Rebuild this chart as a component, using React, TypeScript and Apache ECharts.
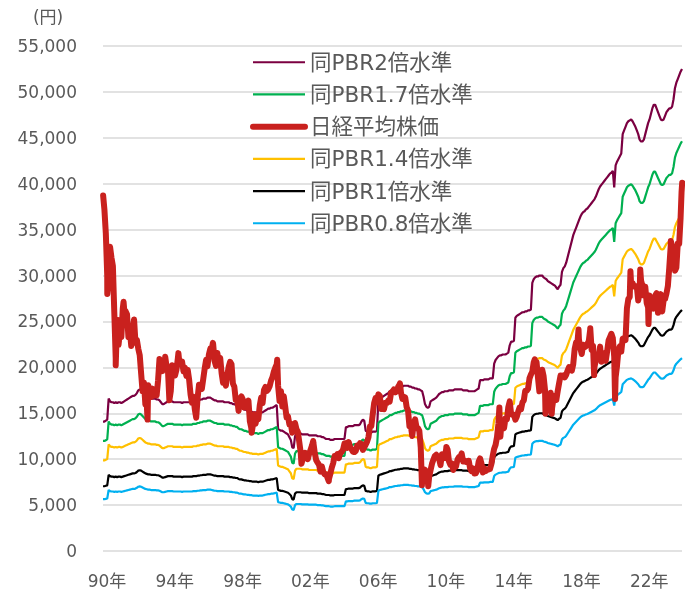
import React, { useEffect, useRef } from "react";
import * as echarts from "echarts";

// ---------- data ----------
const START_YEAR = 1990;

// Nikkei 225 month-end closes, Jan 1990 .. Jan 2024 (yen)
const nikkeiMonthEnd: number[] = [
  37189, 34591, 29980, 29584, 33131, 31940, 31035, 25978, 20984, 25194, 22455, 23849,
  23293, 26409, 26292, 26111, 25790, 23291, 23986, 22336, 23916, 25222, 22687, 22984,
  22023, 21339, 19346, 17391, 18348, 15952, 15910, 18061, 17399, 16767, 17684, 16925,
  17024, 16953, 18591, 20919, 20552, 19590, 20380, 21027, 20106, 19704, 16408, 17417,
  20229, 19997, 19112, 19725, 20974, 20644, 20449, 20629, 19564, 19990, 19076, 19723,
  18650, 17053, 16140, 16807, 15437, 14518, 16678, 18117, 17913, 17655, 18744, 19868,
  20813, 20125, 21407, 22041, 21956, 22531, 20693, 20167, 21556, 20467, 21020, 19361,
  18330, 18557, 18003, 19151, 20069, 20605, 20331, 18229, 17888, 16459, 16636, 15259,
  16628, 16832, 16527, 15641, 15671, 15830, 16379, 14108, 13406, 13564, 14883, 13842,
  14499, 14368, 15837, 16702, 16112, 17530, 17862, 17437, 17605, 17942, 18558, 18934,
  19540, 19960, 20337, 17974, 16332, 17411, 15727, 16861, 15747, 14539, 14649, 13786,
  13843, 12884, 12999, 13934, 13262, 12969, 11860, 10713, 9775, 10366, 10697, 10543,
  9997, 10587, 11025, 11493, 11764, 10622, 9877, 9619, 9383, 8640, 9215, 8579,
  8340, 8363, 7973, 7831, 8425, 9083, 9563, 10344, 10219, 10560, 10101, 10677,
  10784, 11042, 11715, 11762, 11236, 11859, 11326, 11082, 10824, 10771, 10899, 11489,
  11388, 11741, 11669, 11009, 11277, 11584, 11900, 12414, 13574, 13607, 14872, 16111,
  16650, 16205, 17060, 16906, 15467, 15505, 15457, 16141, 16128, 16399, 16274, 17226,
  17383, 17604, 17288, 17400, 17876, 18138, 17249, 16569, 16786, 16738, 15681, 15308,
  13592, 13603, 12526, 13850, 14339, 13481, 13377, 13073, 11260, 8577, 8512, 8860,
  7994, 7568, 8110, 8828, 9523, 9958, 10357, 10493, 10133, 10035, 9346, 10546,
  10198, 10126, 11090, 11057, 9769, 9383, 9537, 8824, 9369, 9202, 9937, 10229,
  10238, 10624, 9755, 9850, 9694, 9816, 9833, 8955, 8700, 8988, 8435, 8455,
  8803, 9723, 10084, 9521, 8543, 9007, 8695, 8840, 8870, 8928, 9446, 10395,
  11139, 11559, 12398, 13861, 13775, 13677, 13668, 13389, 14456, 14328, 15662, 16291,
  14915, 14841, 14828, 14304, 14632, 15162, 15621, 15425, 16174, 16414, 17460, 17451,
  17674, 18798, 19207, 19520, 20563, 20236, 20585, 18890, 17388, 19083, 19747, 19034,
  17518, 16027, 16759, 16666, 17235, 15576, 16569, 16887, 16450, 17425, 18308, 19114,
  19041, 19119, 18909, 19197, 19651, 20033, 19925, 19646, 20356, 22012, 22725, 22765,
  23098, 22068, 21454, 22468, 22202, 22305, 22554, 22865, 24120, 21920, 22351, 20015,
  20773, 21385, 21206, 22259, 20601, 21276, 21522, 20704, 21756, 22927, 23294, 23657,
  23205, 21143, 18917, 20194, 21878, 22288, 21710, 23140, 23185, 22977, 26434, 27444,
  27663, 28966, 29179, 28813, 28860, 28792, 27284, 28090, 29453, 28893, 27822, 28792,
  27002, 26527, 27821, 26848, 27280, 26393, 27802, 28092, 25937, 27587, 27969, 26095,
  27327, 27446, 28041, 28856, 30888, 33189, 33172, 32619, 31858, 30859, 33487, 33464,
  36287,
];

// Intra-month highs / lows and the first and last days
const nikkeiIntraMonth: [string, number][] = [
  ["1990-01-04", 38712], ["1990-04-02", 28002], ["1990-10-01", 20222], ["1991-03-18", 27146],
  ["1992-08-18", 14309], ["1993-09-03", 21148], ["1994-06-13", 21552], ["1995-07-03", 14485],
  ["1996-06-26", 22666], ["1998-10-09", 12880], ["2000-04-12", 20833], ["2001-09-17", 9504],
  ["2002-05-27", 11979], ["2003-04-28", 7608], ["2007-07-09", 18262], ["2008-10-27", 7162],
  ["2009-03-10", 7055], ["2010-04-05", 11339], ["2013-05-22", 15627], ["2013-06-13", 12445],
  ["2015-06-24", 20868], ["2016-02-12", 14953], ["2016-06-24", 14952], ["2018-01-23", 24124],
  ["2018-10-02", 24270], ["2018-12-25", 19155], ["2020-03-19", 16552], ["2021-02-16", 30468],
  ["2021-09-14", 30670], ["2022-03-09", 24717], ["2023-07-03", 33753], ["2023-10-04", 30526],
  ["2024-02-22", 39098], ["2024-03-05", 40109],
];

// Book value per share (the PBR 1x level), start of each month, Jan 1990 .. Mar 2024
const bpsMonthly: number[] = [
  7050, 7050, 7100, 7150, 8300, 8150, 8100, 8100, 8050, 8100, 8050, 8100,
  8100, 8050, 8100, 8150, 8200, 8250, 8300, 8350, 8400, 8450, 8450, 8500,
  8600, 8750, 8800, 8750, 8650, 8550, 8450, 8400, 8350, 8350, 8300, 8300,
  8300, 8300, 8250, 8250, 8200, 8100, 8000, 8000, 8050, 8100, 8150, 8150,
  8150, 8150, 8100, 8100, 8100, 8100, 8100, 8100, 8050, 8100, 8100, 8100,
  8100, 8100, 8100, 8100, 8150, 8150, 8150, 8200, 8200, 8250, 8250, 8300,
  8300, 8300, 8350, 8350, 8350, 8300, 8250, 8200, 8200, 8150, 8150, 8150,
  8150, 8150, 8100, 8100, 8100, 8100, 8050, 8050, 8000, 8000, 7950, 7950,
  7850, 7800, 7800, 7750, 7700, 7700, 7650, 7650, 7600, 7600, 7550, 7550,
  7550, 7550, 7500, 7550, 7550, 7550, 7600, 7650, 7700, 7750, 7750, 7800,
  7800, 7850, 7900, 7950, 6650, 6600, 6550, 6550, 6500, 6450, 6400, 6350,
  6200, 6050, 5650, 5600, 6250, 6400, 6400, 6400, 6400, 6350, 6350, 6350,
  6350, 6350, 6300, 6300, 6300, 6300, 6300, 6300, 6250, 6250, 6250, 6200,
  6200, 6150, 6100, 6100, 6100, 6050, 6050, 6050, 6100, 6100, 6100, 6100,
  6100, 6100, 6100, 6100, 6750, 6750, 6800, 6800, 6800, 6800, 6850, 6850,
  6850, 6850, 6900, 7050, 7150, 7100, 6550, 6500, 6500, 6450, 6450, 6500,
  6500, 6500, 6550, 8200, 8300, 8350, 8400, 8450, 8500, 8550, 8600, 8700,
  8700, 8750, 8800, 8850, 8850, 8900, 8900, 8950, 8950, 9000, 9000, 9000,
  9000, 8950, 8950, 8900, 8900, 8850, 8850, 8800, 8800, 8750, 8700, 8400,
  8000, 7850, 7800, 7850, 8150, 8200, 8250, 8300, 8350, 8450, 8550, 8600,
  8650, 8650, 8700, 8700, 8700, 8750, 8750, 8750, 8750, 8800, 8800, 8800,
  8800, 8800, 8800, 8750, 8750, 8750, 8750, 8700, 8700, 8700, 8700, 8700,
  8750, 8800, 8850, 9300, 9300, 9300, 9350, 9350, 9350, 9350, 9400, 9400,
  9400, 10200, 10400, 10500, 10600, 10650, 10650, 10700, 10700, 10700, 10750, 10800,
  11200, 11400, 11400, 11450, 12700, 12800, 12850, 12900, 12950, 13000, 13000, 13050,
  13050, 13100, 13100, 13150, 14600, 14800, 14900, 14950, 14950, 15000, 15000, 15000,
  14900, 14850, 14800, 14700, 14650, 14600, 14550, 14500, 14450, 14350, 14250, 14400,
  14500, 15200, 15400, 15500, 15700, 16000, 16300, 16600, 16900, 17200, 17400, 17600,
  17800, 18000, 18200, 18350, 18450, 18500, 18600, 18650, 18750, 18850, 18950, 19050,
  19150, 19300, 19500, 19700, 19850, 19950, 20050, 20150, 20250, 20350, 20450, 20550,
  20600, 20700, 19800, 21000, 21200, 21350, 21500, 21650, 22700, 22900, 23100, 23300,
  23400, 23450, 23500, 23400, 23250, 23100, 22900, 22700, 22400, 22300, 22300, 22400,
  22700, 23000, 23300, 23500, 23800, 24100, 24300, 24300, 24100, 23900, 23700, 23500,
  23450, 23500, 23700, 23900, 24000, 24100, 24100, 24200, 24600, 25200, 25500, 25700,
  25900, 26100, 26250,
];

const pbrMultiples: number[] = [2, 1.7, 1.4, 1, 0.8];
const pbrNames: string[] = ["同PBR2倍水準", "同PBR1.7倍水準", "同PBR1.4倍水準", "同PBR1倍水準", "同PBR0.8倍水準"];
const nikkeiName = "日経平均株価";
const legendOrder: string[] = ["同PBR2倍水準", "同PBR1.7倍水準", "日経平均株価", "同PBR1.4倍水準", "同PBR1倍水準", "同PBR0.8倍水準"];
const yTicks = { min: 0, max: 55000, step: 5000 };
const xTickYears = 4;

// ---------- styles ----------
const pbrColors = ["#7B0041", "#00B050", "#FFC000", "#000000", "#00B0F0"];
const nikkeiColor = "#C9211E";
const textColor = "#595959";
const FONT = "'DejaVu Sans', 'Noto Sans CJK JP', sans-serif";
const thinWidth = 2.2;
const thickWidth = 6;

function dateToT(s: string): number {
  const [y, m, d] = s.split("-").map(Number);
  return y - START_YEAR + (m - 1 + (d - 1) / 30.5) / 12;
}

function buildNikkei(): [number, number][] {
  const pts: [number, number][] = nikkeiMonthEnd.map((v, i) => [(i + 1) / 12, v]);
  nikkeiIntraMonth.forEach(([d, v]) => pts.push([dateToT(d), v]));
  pts.sort((a, b) => a[0] - b[0]);
  return pts;
}

const X_MAX = (bpsMonthly.length - 1) / 12;

export default function App() {
  const ref = useRef<HTMLDivElement>(null);
  useEffect(() => {
    const chart = echarts.init(ref.current!, null, { renderer: "svg" });
    const pbrSeries = pbrMultiples.map((m, k) => ({
      name: pbrNames[k],
      type: "line",
      symbol: "none",
      z: 2,
      data: bpsMonthly.map((b, i) => [i / 12, Math.round(b * m)]),
      lineStyle: { color: pbrColors[k], width: thinWidth },
      itemStyle: { color: pbrColors[k] },
    }));
    const nikkeiSeries = {
      name: nikkeiName,
      type: "line",
      symbol: "none",
      z: 3,
      data: buildNikkei(),
      lineStyle: { color: nikkeiColor, width: thickWidth, cap: "round", join: "round" },
      itemStyle: { color: nikkeiColor },
    };
    const option = {
      animation: false,
      textStyle: { fontFamily: FONT },
      grid: { left: 103, right: 8, top: 46, bottom: 39 },
      xAxis: {
        type: "value",
        min: 0,
        max: X_MAX,
        interval: xTickYears,
        axisLine: { show: false },
        axisTick: { show: false },
        splitLine: { show: false },
        axisLabel: {
          color: textColor,
          fontSize: 17,
          fontFamily: FONT,
          margin: 21,
          padding: [0, 0, 0, 8],
          showMaxLabel: false,
          formatter: (v: number) => {
            const r = Math.round(v);
            if (Math.abs(v - r) > 1e-6 || r % xTickYears !== 0) return "";
            return String((START_YEAR + r) % 100).padStart(2, "0") + "年";
          },
        },
      },
      yAxis: {
        type: "value",
        min: yTicks.min,
        max: yTicks.max,
        interval: yTicks.step,
        axisLine: { show: false },
        axisTick: { show: false },
        splitLine: { lineStyle: { color: "#D9D9D9", width: 1.5 } },
        axisLabel: {
          color: textColor,
          fontSize: 17,
          fontFamily: FONT,
          margin: 26,
          formatter: (v: number) => v.toLocaleString("en-US"),
        },
      },
      legend: {
        data: legendOrder.map((name) =>
          name === nikkeiName
            ? { name, lineStyle: { width: thickWidth, cap: "round" } }
            : { name, lineStyle: { width: thinWidth } }
        ),
        orient: "vertical",
        left: 250,
        top: 51.5,
        padding: 0,
        itemWidth: 52,
        itemHeight: 14,
        itemGap: 10.7,
        selectedMode: false,
        itemStyle: { opacity: 0 },
        textStyle: { color: textColor, fontSize: 21.5, fontFamily: FONT },
      },
      graphic: [
        {
          type: "text",
          x: 48,
          y: 17,
          style: {
            text: "(円)",
            fill: textColor,
            fontSize: 17,
            fontFamily: FONT,
            align: "center",
            verticalAlign: "middle",
          },
        },
      ],
      series: [pbrSeries[0], pbrSeries[1], nikkeiSeries, pbrSeries[2], pbrSeries[3], pbrSeries[4]],
    };
    chart.setOption(option as any);
    return () => chart.dispose();
  }, []);
  return (
    <div
      ref={ref}
      style={{ position: "fixed", left: 0, top: 0, width: 690, height: 590 }}
    />
  );
}
